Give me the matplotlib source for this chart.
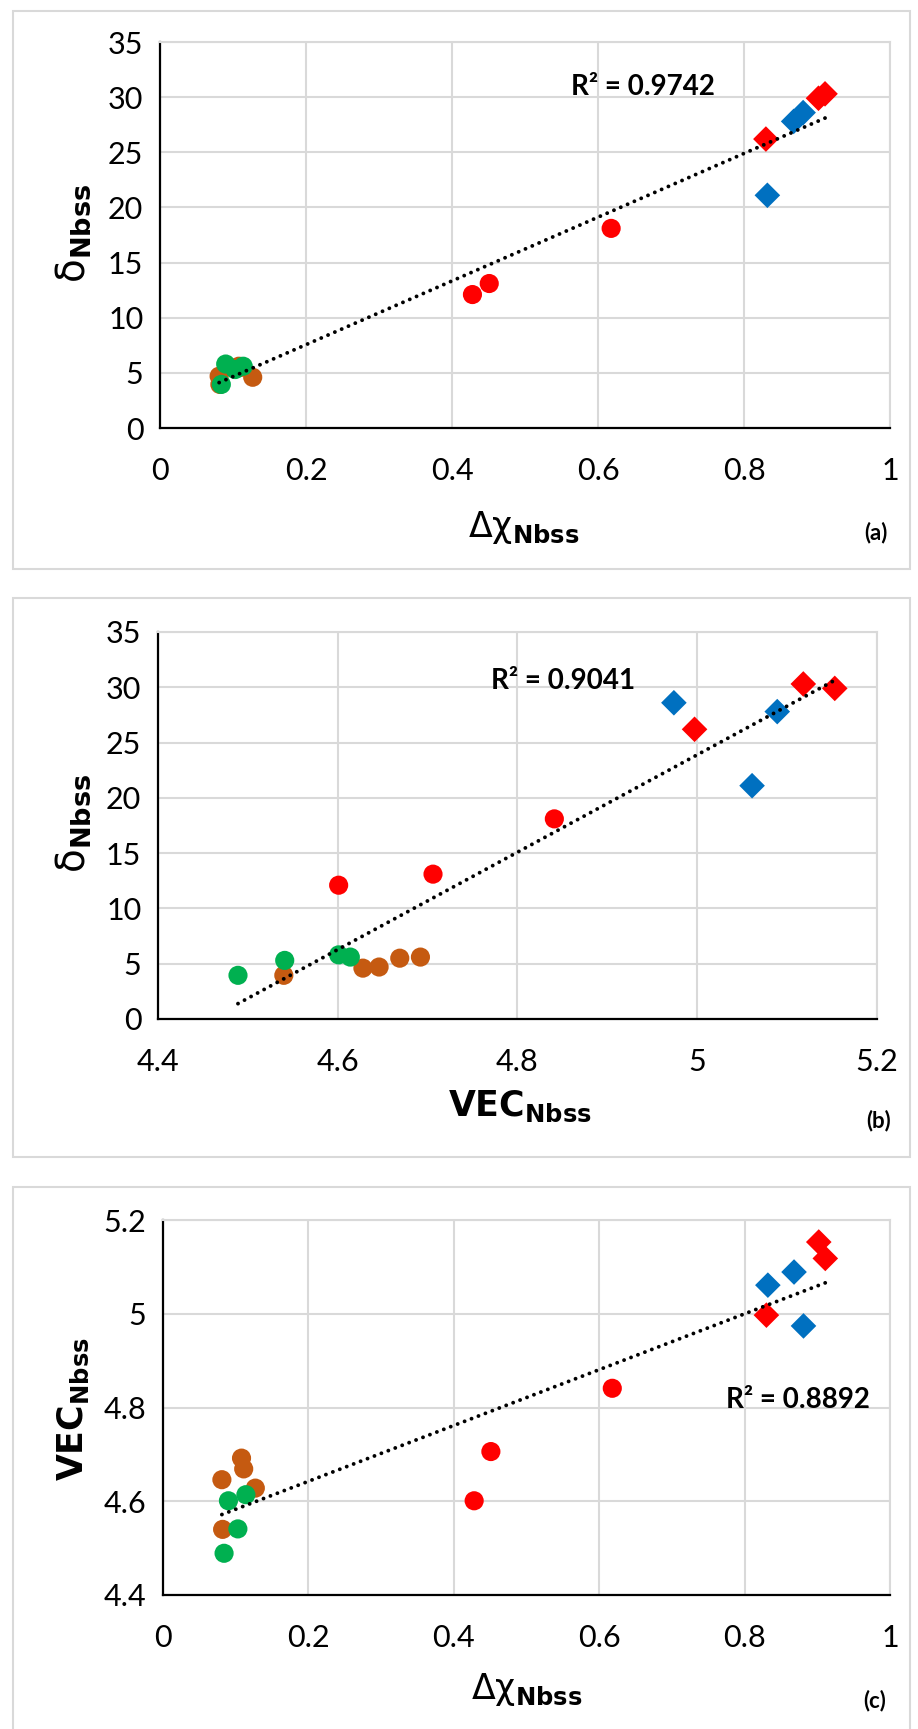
import numpy as np
import matplotlib
matplotlib.use('Agg')
import matplotlib.pyplot as plt
from matplotlib.patches import Rectangle

plt.rcParams['font.family'] = ['Lato', 'DejaVu Sans']
plt.rcParams['mathtext.fontset'] = 'dejavusans'

# data: delta chi, VEC and delta for each group
green_dchi = [0.084, 0.090, 0.103, 0.114]
green_vec = [4.489, 4.601, 4.541, 4.614]
green_delta = [3.95, 5.8, 5.3, 5.6]

brown_dchi = [0.081, 0.082, 0.108, 0.111, 0.127]
brown_vec = [4.646, 4.540, 4.692, 4.669, 4.628]
brown_delta = [4.7, 3.95, 5.6, 5.5, 4.6]

redc_dchi = [0.428, 0.451, 0.618]
redc_vec = [4.601, 4.706, 4.841]
redc_delta = [12.1, 13.1, 18.1]

blue_dchi = [0.832, 0.868, 0.881]
blue_vec = [5.061, 5.089, 4.974]
blue_delta = [21.1, 27.8, 28.6]

redd_dchi = [0.830, 0.902, 0.911]
redd_vec = [4.997, 5.153, 5.118]
redd_delta = [26.2, 29.9, 30.3]

groups = [
    ('green', '#00B050', 'o', green_dchi, green_vec, green_delta),
    ('brown', '#C55A11', 'o', brown_dchi, brown_vec, brown_delta),
    ('redc', '#FF0000', 'o', redc_dchi, redc_vec, redc_delta),
    ('blue', '#0070C0', 'D', blue_dchi, blue_vec, blue_delta),
    ('redd', '#FF0000', 'D', redd_dchi, redd_vec, redd_delta),
]
# draw order as in the original (later groups on top)
draw_order = ['brown', 'green', 'redc', 'blue', 'redd']

r2_texts = ['R² = 0.9742', 'R² = 0.9041', 'R² = 0.8892']

W, H = 918, 1729
fig = plt.figure(figsize=(W / 100, H / 100), dpi=100)


def fx(px):
    return px / W


def fy(py):
    return 1 - py / H


# panel frames
for top, bot in [(11, 569), (598, 1157), (1187, 1740)]:
    fig.patches.append(Rectangle((fx(13), fy(bot)), fx(910) - fx(13), fy(top) - fy(bot),
                                 transform=fig.transFigure, fill=False,
                                 edgecolor='#D9D9D9', linewidth=1.5))

panels = [
    # (xkey, ykey, axes box px (left, right, top, bottom), xlim, xticks, ylim, yticks)
    ('dchi', 'delta', (160, 890, 42, 428), (0, 1), [0, 0.2, 0.4, 0.6, 0.8, 1],
     (0, 35), list(range(0, 36, 5))),
    ('vec', 'delta', (158, 877, 632, 1019), (4.4, 5.2), [4.4, 4.6, 4.8, 5.0, 5.2],
     (0, 35), list(range(0, 36, 5))),
    ('dchi', 'vec', (163, 890, 1220, 1595), (0, 1), [0, 0.2, 0.4, 0.6, 0.8, 1],
     (4.4, 5.2), [4.4, 4.6, 4.8, 5.0, 5.2]),
]

idx = {'dchi': 3, 'vec': 4, 'delta': 5}


def fmt(v):
    s = ('%.1f' % v).rstrip('0').rstrip('.')
    return s


axes = []
for xk, yk, (l, r, t, b), xlim, xticks, ylim, yticks in panels:
    ax = fig.add_axes([fx(l), fy(b), fx(r) - fx(l), fy(t) - fy(b)])
    axes.append(ax)
    gd = {g[0]: g for g in groups}
    allx, ally = [], []
    for name in draw_order:
        g = gd[name]
        xs, ys = g[idx[xk]], g[idx[yk]]
        allx += xs
        ally += ys
        size = 190 if g[2] == 'o' else 170
        ax.scatter(xs, ys, s=size, c=g[1], marker=g[2], edgecolors='none', zorder=3)
    # linear trend line over all points
    k, c0 = np.polyfit(allx, ally, 1)
    xx = np.array([min(allx), max(allx)])
    ax.plot(xx, k * xx + c0, color='black', linewidth=2.8,
            linestyle=(0, (0.01, 1.9)), dash_capstyle='round', zorder=4)
    ax.set_xlim(*xlim)
    ax.set_ylim(*ylim)
    ax.set_xticks(xticks)
    ax.set_yticks(yticks)
    ax.set_xticklabels([fmt(v) for v in xticks])
    ax.set_yticklabels([fmt(v) for v in yticks])
    ax.tick_params(axis='both', length=0, labelsize=22, colors='black')
    ax.tick_params(axis='x', pad=21)
    ax.tick_params(axis='y', pad=12)
    ax.grid(True, color='#D9D9D9', linewidth=1.5, zorder=0)
    ax.set_axisbelow(True)
    for s in ['top', 'right']:
        ax.spines[s].set_color('#D9D9D9')
        ax.spines[s].set_linewidth(1.5)
    for s in ['left', 'bottom']:
        ax.spines[s].set_color('black')
        ax.spines[s].set_linewidth(1.6)

# R squared labels
axes[0].text(0.563, 30.9, r2_texts[0], fontsize=20, fontweight='bold', va='center', ha='left')
axes[1].text(4.77, 30.6, r2_texts[1], fontsize=20, fontweight='bold', va='center', ha='left')
axes[2].text(0.774, 4.816, r2_texts[2], fontsize=20, fontweight='bold', va='center', ha='left')

# axis labels
dchi_lab = r'$\mathrm{\Delta\chi}_{\mathbf{Nbss}}$'
delta_lab = r'$\mathrm{\delta}_{\mathbf{Nbss}}$'
vec_lab = r'$\mathbf{VEC_{Nbss}}$'

fig.text(fx(524), fy(527), dchi_lab, fontsize=25, ha='center', va='center')
fig.text(fx(520), fy(1106), vec_lab, fontsize=25, ha='center', va='center')
fig.text(fx(527), fy(1690), dchi_lab, fontsize=25, ha='center', va='center')

fig.text(fx(73), fy(233), delta_lab, fontsize=28, ha='center', va='center', rotation=90)
fig.text(fx(73), fy(823), delta_lab, fontsize=28, ha='center', va='center', rotation=90)
fig.text(fx(73), fy(1409), vec_lab, fontsize=25, ha='center', va='center', rotation=90)

for (x, y), lab in zip([(876, 533), (879, 1121), (875, 1701)], ['(a)', '(b)', '(c)']):
    fig.text(fx(x), fy(y), lab, fontsize=16, fontweight='bold', ha='center', va='center')

fig.savefig('out.png', dpi=100)
